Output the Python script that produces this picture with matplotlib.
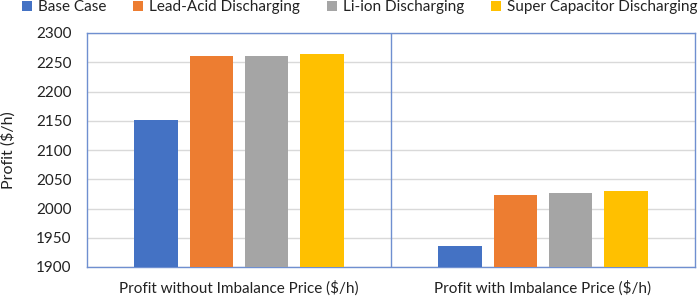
import matplotlib.pyplot as plt
import numpy as np

plt.rcParams['font.family'] = ['Lato', 'DejaVu Sans']

categories = ['Profit without Imbalance Price ($/h)', 'Profit with Imbalance Price ($/h)']
series = ['Base Case', 'Lead-Acid Discharging', 'Li-ion Discharging', 'Super Capacitor Discharging']
values = {
    'Base Case': [2151, 1936],
    'Lead-Acid Discharging': [2261, 2023],
    'Li-ion Discharging': [2260, 2026],
    'Super Capacitor Discharging': [2264, 2030],
}
colors = ['#4472C4', '#ED7D31', '#A5A5A5', '#FFC000']
yticks = np.arange(1900, 2301, 50)

fig = plt.figure(figsize=(6.99, 2.97), dpi=100)
ax = fig.add_axes([87 / 699, 1 - 267 / 297, 608 / 699, 234 / 297])

x = np.arange(len(categories))
width = 0.1425
step = 0.182
for i, (name, c) in enumerate(zip(series, colors)):
    ax.bar(x + (i - 1.5) * step, values[name], width, color=c, label=name, zorder=3)

ax.set_xlim(-0.5, 1.5)
ax.set_ylim(1900, 2300)
ax.set_yticks(yticks)
ax.tick_params(axis='y', length=0, labelsize=11, pad=11, colors='#222222')
ax.set_xticks(x)
ax.set_xticklabels(categories)
ax.tick_params(axis='x', length=0, labelsize=11, pad=10, colors='#222222')
ax.grid(axis='y', color='#d9d9d9', linewidth=1, zorder=0)
ax.axvline(0.5, color='#6f8fd0', linewidth=1, zorder=4)
for s in ax.spines.values():
    s.set_color('#6f8fd0')
    s.set_linewidth(1)
ax.set_ylabel('Profit ($/h)', fontsize=11.5, labelpad=15, color='#222222')

fig.legend(loc='upper center', bbox_to_anchor=(0.515, 1.045), ncol=4, frameon=False,
           fontsize=11, handlelength=0.65, handleheight=0.65, handletextpad=0.4,
           columnspacing=1.75, labelcolor='#222222')

fig.savefig('out.png', dpi=100)
